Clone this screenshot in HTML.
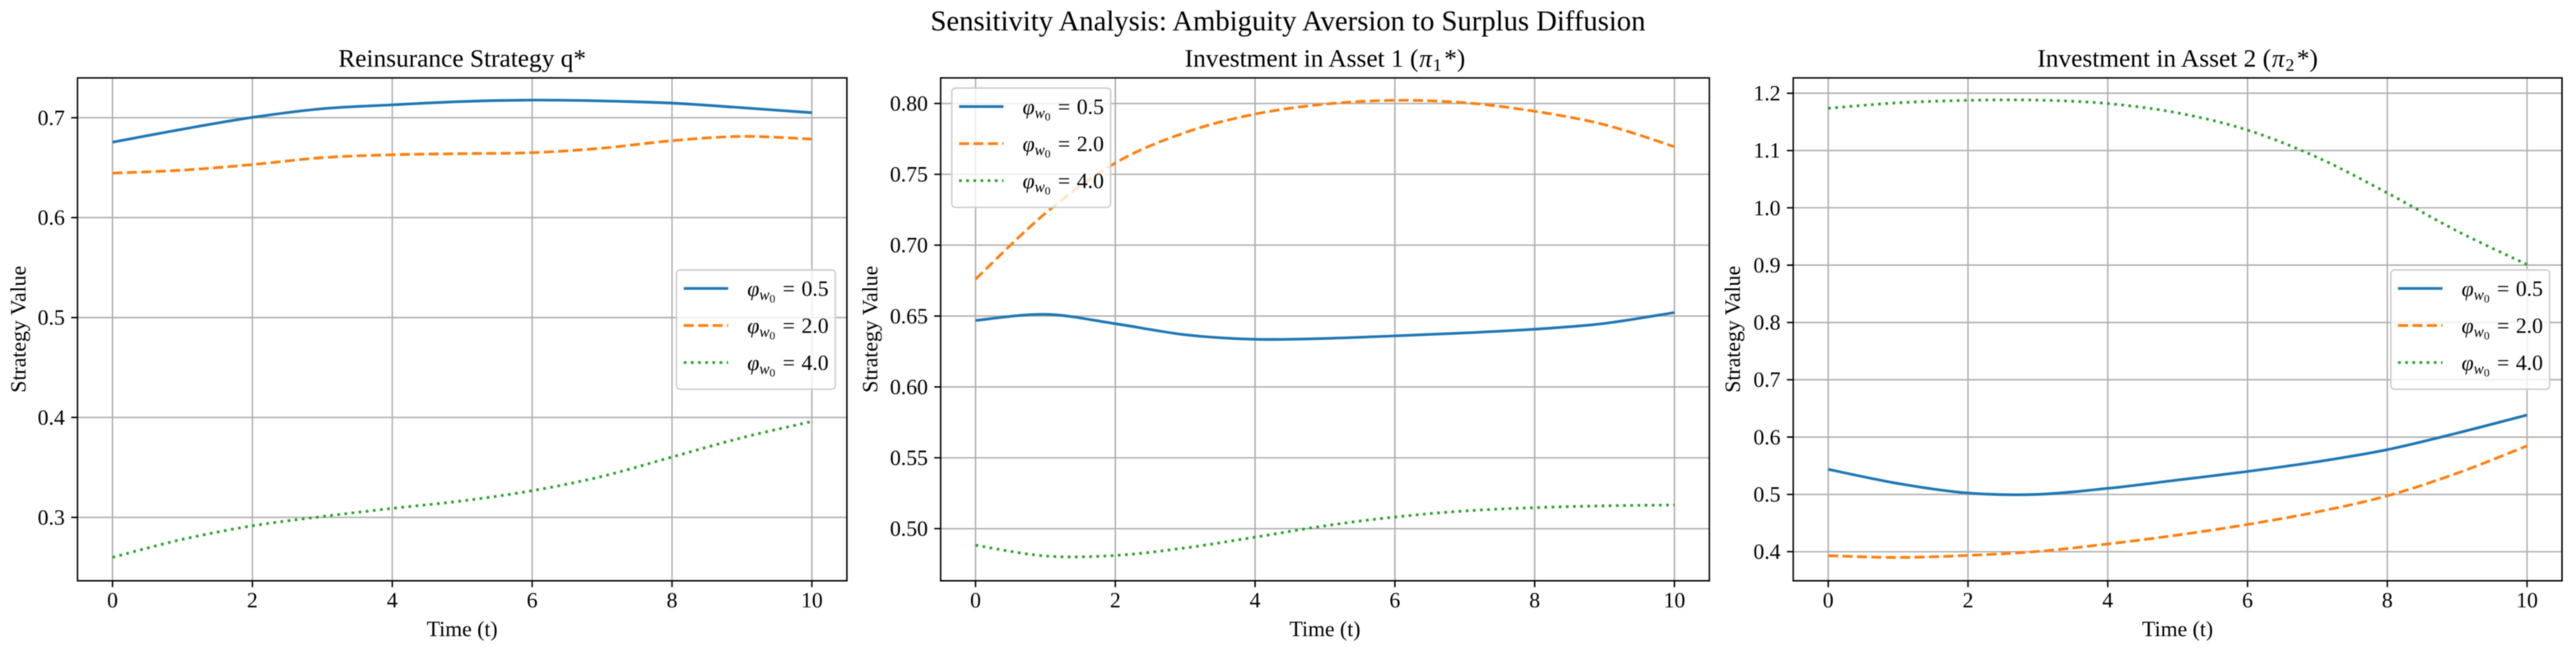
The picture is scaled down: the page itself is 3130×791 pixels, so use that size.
<!DOCTYPE html>
<html lang="en">
<head>
<meta charset="utf-8">
<title>Sensitivity Analysis: Ambiguity Aversion to Surplus Diffusion</title>
<style>
html,body{margin:0;padding:0;background:#fff;}
body{width:3130px;height:791px;overflow:hidden;}
svg{display:block;font-family:"Liberation Serif","DejaVu Serif",serif;fill:#000;filter:blur(0.5px);}
</style>
</head>
<body>
<svg id="figure" xmlns="http://www.w3.org/2000/svg" width="3130" height="791" viewBox="0 0 3130 791">
  <rect x="0" y="0" width="3130" height="791" fill="#ffffff"/>
  <text x="1565" y="37" font-size="34.8" text-anchor="middle">Sensitivity Analysis: Ambiguity Aversion to Surplus Diffusion</text>
</svg>
<script>
// Shared axis data
const timeValues = [0, 1, 2, 3, 4, 5, 6, 7, 8, 9, 10];
const xTickLabels = [0, 2, 4, 6, 8, 10];
const xDomain = [-0.5, 10.5];
const seriesLabels = ['0.5', '2.0', '4.0'];

// Panel 1: reinsurance strategy
const reinsuranceLow = [0.6755, 0.6885, 0.7003, 0.709, 0.7129, 0.7162, 0.7176, 0.7168, 0.7146, 0.710, 0.705];
const reinsuranceMid = [0.6445, 0.6475, 0.6531, 0.660, 0.6629, 0.664, 0.665, 0.6695, 0.677, 0.6813, 0.6786];
const reinsuranceHigh = [0.260, 0.278, 0.2915, 0.3008, 0.309, 0.3165, 0.3267, 0.341, 0.3604, 0.3797, 0.396];
const reinsuranceTicks = ['0.3', '0.4', '0.5', '0.6', '0.7'];
const reinsuranceDomain = [0.2365, 0.7398];

// Panel 2: investment in asset 1
const asset1Low = [0.6469, 0.6512, 0.6446, 0.6368, 0.6336, 0.6342, 0.636, 0.6381, 0.6407, 0.6448, 0.6525];
const asset1Mid = [0.676, 0.7225, 0.758, 0.7795, 0.7925, 0.7995, 0.8022, 0.8005, 0.7945, 0.785, 0.7695];
const asset1High = [0.4883, 0.4807, 0.4811, 0.4864, 0.494, 0.502, 0.5082, 0.5125, 0.5148, 0.5161, 0.5167];
const asset1Ticks = ['0.50', '0.55', '0.60', '0.65', '0.70', '0.75', '0.80'];
const asset1Domain = [0.4632, 0.818];

// Panel 3: investment in asset 2
const asset2Low = [0.5437, 0.519, 0.5024, 0.500, 0.5105, 0.525, 0.540, 0.557, 0.578, 0.607, 0.6385];
const asset2Mid = [0.393, 0.390, 0.3935, 0.4005, 0.4135, 0.429, 0.4475, 0.4695, 0.4975, 0.537, 0.5846];
const asset2High = [1.1738, 1.1833, 1.1876, 1.188, 1.182, 1.1657, 1.1357, 1.088, 1.026, 0.9595, 0.901];
const asset2Ticks = ['0.4', '0.5', '0.6', '0.7', '0.8', '0.9', '1.0', '1.1', '1.2'];
const asset2Domain = [0.3492, 1.2267];

const svgNS = 'http://www.w3.org/2000/svg';
const figure = document.getElementById('figure');
const plotTop = 94.7;
const plotBottom = 705.7;
const colors = ['#1f77b4', '#ff7f0e', '#2ca02c'];
const dashes = ['none', '12.2 5.3', '3.3 5.4'];
const slugs = ['phi-0-5', 'phi-2-0', 'phi-4-0'];

function make(tag, attrs, parent) {
  const el = document.createElementNS(svgNS, tag);
  for (const key in attrs) el.setAttribute(key, attrs[key]);
  parent.appendChild(el);
  return el;
}

function smoothPath(points) {
  let d = 'M' + points[0][0].toFixed(2) + ' ' + points[0][1].toFixed(2);
  for (let i = 0; i < points.length - 1; i++) {
    const p0 = points[Math.max(i - 1, 0)];
    const p1 = points[i];
    const p2 = points[i + 1];
    const p3 = points[Math.min(i + 2, points.length - 1)];
    const c1x = p1[0] + (p2[0] - p0[0]) / 6;
    const c1y = p1[1] + (p2[1] - p0[1]) / 6;
    const c2x = p2[0] - (p3[0] - p1[0]) / 6;
    const c2y = p2[1] - (p3[1] - p1[1]) / 6;
    d += 'C' + c1x.toFixed(2) + ' ' + c1y.toFixed(2) + ' ' + c2x.toFixed(2) + ' ' + c2y.toFixed(2) + ' ' + p2[0].toFixed(2) + ' ' + p2[1].toFixed(2);
  }
  return d;
}

function addTitle(parent, panel) {
  const title = make('text', {x: (panel.left + panel.right) / 2, y: 81, 'font-size': 30.8, 'text-anchor': 'middle'}, parent);
  
  
  title.appendChild(document.createTextNode(panel.titleText));
  if (panel.titleSub) {
    const pi = make('tspan', {'font-style': 'italic', dx: 1}, title);
    pi.textContent = '\u03c0';
    const sub = make('tspan', {'font-size': 21.5, dy: 5, dx: 1}, title);
    sub.textContent = panel.titleSub;
    const end = make('tspan', {dy: -5, dx: 3}, title);
    end.textContent = '*)';
  }
}

function addLegend(parent, panel) {
  const group = make('g', {}, parent);
  
  
  const lx = panel.legendX;
  const ly = panel.legendY;
  const frame = make('rect', {x: lx, y: ly, width: 193, height: 145, rx: 4.4, ry: 4.4, fill: '#ffffff', 'fill-opacity': 0.8, stroke: '#cccccc', 'stroke-width': 1.76}, group);
  
  
  seriesLabels.forEach(function (label, i) {
    const rowY = ly + 22.5 + i * 45;
    const handle = make('line', {x1: lx + 8.8, x2: lx + 62.8, y1: rowY, y2: rowY, stroke: colors[i], 'stroke-width': 3.3}, group);
    if (dashes[i] !== 'none') handle.setAttribute('stroke-dasharray', dashes[i]);
    
    
    const text = make('text', {x: lx + 86, y: rowY + 9, 'font-size': 26.4}, group);
    
    
    const phi = make('tspan', {'font-style': 'italic'}, text);
    phi.textContent = '\u03c6';
    const w = make('tspan', {'font-style': 'italic', 'font-size': 18.5, dy: 5}, text);
    w.textContent = 'w';
    const zero = make('tspan', {'font-size': 14, dy: 3}, text);
    zero.textContent = '0';
    const eq = make('tspan', {dy: -8, dx: 9}, text);
    eq.textContent = '=';
    const rest = make('tspan', {dx: 8}, text);
    rest.textContent = label;
  });
}

function drawPanel(panel) {
  const g = make('g', {}, figure);
  
  

  const xScale = function (v) {
    return panel.left + (v - xDomain[0]) / (xDomain[1] - xDomain[0]) * (panel.right - panel.left);
  };
  const yScale = function (v) {
    return plotBottom - (v - panel.domain[0]) / (panel.domain[1] - panel.domain[0]) * (plotBottom - plotTop);
  };

  const clipId = panel.name + '-clip';
  const defs = make('defs', {}, g);
  const clip = make('clipPath', {id: clipId}, defs);
  make('rect', {x: panel.left, y: plotTop, width: panel.right - panel.left, height: plotBottom - plotTop}, clip);

  xTickLabels.forEach(function (t) {
    const x = xScale(t);
    const grid = make('line', {x1: x, x2: x, y1: plotTop, y2: plotBottom, stroke: '#b0b0b0', 'stroke-width': 1.76}, g);
    
    
    const tick = make('line', {x1: x, x2: x, y1: plotBottom, y2: plotBottom + 7.7, stroke: '#000', 'stroke-width': 1.76}, g);
    
    
    const label = make('text', {x: x, y: 738, 'font-size': 26.4, 'text-anchor': 'middle'}, g);
    
    
    label.textContent = String(t);
  });

  panel.ticks.forEach(function (t) {
    const y = yScale(parseFloat(t));
    const grid = make('line', {x1: panel.left, x2: panel.right, y1: y, y2: y, stroke: '#b0b0b0', 'stroke-width': 1.76}, g);
    
    
    const tick = make('line', {x1: panel.left - 7.7, x2: panel.left, y1: y, y2: y, stroke: '#000', 'stroke-width': 1.76}, g);
    
    
    const label = make('text', {x: panel.left - 15.4, y: y + 8.8, 'font-size': 26.4, 'text-anchor': 'end'}, g);
    
    
    label.textContent = t;
  });

  panel.series.forEach(function (values, i) {
    const points = values.map(function (v, k) {
      return [xScale(timeValues[k]), yScale(v)];
    });
    const path = make('path', {d: smoothPath(points), fill: 'none', stroke: colors[i], 'stroke-width': 3.3, 'clip-path': 'url(#' + clipId + ')'}, g);
    if (dashes[i] !== 'none') path.setAttribute('stroke-dasharray', dashes[i]);
    
    
  });

  addLegend(g, panel);

  const spines = make('rect', {x: panel.left, y: plotTop, width: panel.right - panel.left, height: plotBottom - plotTop, fill: 'none', stroke: '#000', 'stroke-width': 1.76}, g);
  
  

  addTitle(g, panel);

  const xTitle = make('text', {x: (panel.left + panel.right) / 2, y: 773, 'font-size': 26.4, 'text-anchor': 'middle'}, g);
  
  
  xTitle.textContent = 'Time (t)';

  const yx = panel.yTitleX;
  const yTitle = make('text', {x: yx, y: 400, 'font-size': 26.4, 'text-anchor': 'middle', transform: 'rotate(-90 ' + yx + ' 400)'}, g);
  
  
  yTitle.textContent = 'Strategy Value';
}

drawPanel({
  name: 'reinsurance-panel', left: 94.2, right: 1029, domain: reinsuranceDomain, ticks: reinsuranceTicks,
  series: [reinsuranceLow, reinsuranceMid, reinsuranceHigh],
  titleText: 'Reinsurance Strategy q*', titleSub: '',
  legendX: 822, legendY: 328, yTitleX: 31
});
drawPanel({
  name: 'asset-1-panel', left: 1142.9, right: 2077, domain: asset1Domain, ticks: asset1Ticks,
  series: [asset1Low, asset1Mid, asset1High],
  titleText: 'Investment in Asset 1 (', titleSub: '1',
  legendX: 1156.5, legendY: 107, yTitleX: 1066
});
drawPanel({
  name: 'asset-2-panel', left: 2178.9, right: 3113, domain: asset2Domain, ticks: asset2Ticks,
  series: [asset2Low, asset2Mid, asset2High],
  titleText: 'Investment in Asset 2 (', titleSub: '2',
  legendX: 2905, legendY: 328, yTitleX: 2114
});
</script>
</body>
</html>
